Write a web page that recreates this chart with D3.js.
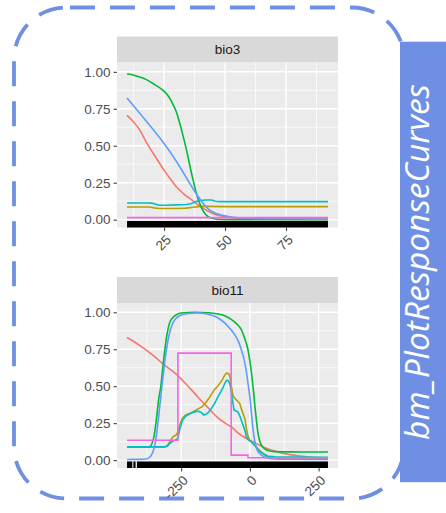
<!DOCTYPE html>
<html><head><meta charset="utf-8">
<script src="https://cdn.jsdelivr.net/npm/d3@7"></script>
<style>html,body{margin:0;padding:0;background:#fff;} svg{display:block}</style>
</head><body>
<svg id="chart" width="446" height="513"></svg>
<script>
// ---- response curve data: [predictor value, predicted probability] ----
const seriesColors = ["#F8766D", "#B79F00", "#00BA38", "#00BFC4", "#619CFF", "#F564E3"];
const seriesCurves = ["smooth", "linear", "smooth", "linear", "smooth", "step"];

// bio3
const bio3Red = [[9.8,0.705],[12.5,0.66],[15,0.607],[17.5,0.53],[20.5,0.449],[23,0.385],[25,0.335],[27.5,0.277],[30,0.222],[33,0.175],[36.9,0.127],[40,0.088],[43.7,0.052],[47,0.03],[50.6,0.018],[55,0.009],[60,0.005],[70,0.003],[92.2,0.002]];
const bio3Olive = [[9.8,0.086],[19,0.086],[21,0.08],[23,0.076],[30,0.076],[34,0.078],[37,0.084],[40,0.09],[43,0.09],[50,0.088],[92.2,0.088]];
const bio3Green = [[9.8,0.985],[12,0.98],[14,0.97],[17.8,0.947],[21,0.915],[25,0.868],[27,0.83],[28.7,0.778],[30,0.73],[31.4,0.653],[32.8,0.565],[34.2,0.47],[35.5,0.37],[36.9,0.267],[38.2,0.18],[39.6,0.109],[41,0.06],[42.4,0.029],[44,0.012],[46.5,0.003],[50,0],[92.2,0]];
const bio3Cyan = [[9.8,0.113],[18,0.113],[20,0.112],[21.5,0.104],[23,0.098],[26,0.097],[30,0.1],[34,0.103],[36,0.108],[38,0.122],[40,0.13],[42,0.133],[44.5,0.133],[46,0.125],[48,0.122],[92.2,0.122]];
const bio3Blue = [[9.8,0.823],[15,0.72],[20,0.62],[25,0.515],[30,0.395],[33,0.315],[35,0.26],[37,0.205],[39,0.155],[41,0.11],[43,0.075],[45,0.052],[48,0.033],[52,0.02],[57,0.011],[65,0.006],[80,0.004],[92.2,0.003]];
const bio3Pink = [[9.8,0.014],[92.2,0.014]];
const bio3Rug = [[9.8,92.2]];

// bio11
const bio11Red = [[-447,0.83],[-400,0.775],[-350,0.705],[-312,0.645],[-280,0.6],[-250,0.55],[-225,0.5],[-200,0.45],[-181,0.41],[-150,0.35],[-121,0.295],[-90,0.25],[-68,0.225],[-40,0.18],[-20,0.155],[0,0.135],[30,0.105],[60,0.08],[100,0.056],[157,0.034],[220,0.02],[284,0.012]];
const bio11Olive = [[-447,0.09],[-310,0.09],[-300,0.1],[-290,0.13],[-280,0.158],[-270,0.168],[-262,0.19],[-255,0.24],[-245,0.285],[-235,0.305],[-220,0.315],[-205,0.33],[-190,0.345],[-175,0.36],[-160,0.39],[-145,0.43],[-130,0.475],[-115,0.505],[-100,0.545],[-92,0.575],[-85,0.588],[-77,0.585],[-72,0.56],[-68,0.51],[-62,0.44],[-55,0.418],[-45,0.4],[-37,0.384],[-30,0.34],[-22,0.3],[-17,0.27],[-13,0.215],[-8,0.17],[-1,0.135],[8,0.12],[17,0.1],[28,0.078],[41,0.056],[55,0.035],[65,0.022],[85,0.015],[284,0.013]];
const bio11Green = [[-447,0.09],[-372,0.09],[-362,0.095],[-355,0.12],[-348,0.17],[-340,0.28],[-332,0.41],[-324,0.5],[-315,0.66],[-303,0.835],[-292,0.93],[-280,0.965],[-267,0.984],[-250,0.995],[-200,1.0],[-150,0.997],[-116,0.988],[-90,0.975],[-68,0.952],[-50,0.925],[-31,0.882],[-20,0.83],[-7,0.747],[0,0.67],[5,0.6],[10,0.52],[14,0.45],[18,0.37],[23,0.28],[29,0.19],[35,0.135],[41,0.105],[47,0.088],[56,0.074],[65,0.066],[90,0.058],[150,0.056],[284,0.055]];
const bio11Cyan = [[-447,0.09],[-310,0.09],[-300,0.095],[-290,0.115],[-280,0.13],[-270,0.137],[-262,0.15],[-255,0.21],[-245,0.27],[-235,0.295],[-222,0.31],[-210,0.32],[-195,0.33],[-185,0.33],[-175,0.32],[-168,0.305],[-160,0.31],[-150,0.325],[-140,0.35],[-128,0.385],[-116,0.43],[-105,0.465],[-98,0.49],[-90,0.525],[-85,0.54],[-78,0.538],[-72,0.51],[-68,0.465],[-62,0.39],[-58,0.34],[-50,0.332],[-43,0.325],[-35,0.29],[-25,0.237],[-18,0.2],[-13,0.16],[-5,0.135],[5,0.124],[15,0.105],[23,0.09],[35,0.06],[47,0.045],[65,0.028],[90,0.022],[284,0.02]];
const bio11Blue = [[-447,0.005],[-385,0.006],[-370,0.012],[-360,0.03],[-352,0.06],[-345,0.11],[-338,0.2],[-330,0.33],[-320,0.5],[-310,0.66],[-300,0.79],[-288,0.89],[-275,0.945],[-262,0.97],[-245,0.985],[-220,0.993],[-190,0.996],[-160,0.99],[-128,0.973],[-110,0.955],[-92,0.928],[-75,0.895],[-55,0.848],[-40,0.795],[-31,0.747],[-20,0.67],[-13,0.6],[-7,0.52],[-1,0.44],[5,0.33],[10,0.23],[17,0.135],[25,0.075],[35,0.045],[53,0.022],[80,0.01],[130,0.006],[284,0.005]];
const bio11Pink = [[-447,0.135],[-262,0.724],[-68,0.034],[-7,0.016],[284,0.016]];
const bio11Rug = [[-447,-428],[-424,-416],[-411,284]];

// axis ticks
const yTicks = [0, 0.25, 0.5, 0.75, 1];
const yMinor = [0.125, 0.375, 0.625, 0.875];
const bio3Ticks = [25, 50, 75];
const bio3Minor = [12.5, 37.5, 62.5, 87.5];
const bio11Ticks = [-250, 0, 250];
const bio11Minor = [-375, -125, 125];

const sideTitle = "bm_PlotResponseCurves";

// ---- layout ----
const svg = d3.select("#chart");
const accent = "#6e8fe3";
const panelLeft = 117, panelRight = 338, panelH = 165, stripH = 26;
const yDomain = [-0.053, 1.063];

const panels = [
  { title: "bio3", series: [bio3Red, bio3Olive, bio3Green, bio3Cyan, bio3Blue, bio3Pink],
    rug: bio3Rug, ticks: bio3Ticks, minor: bio3Minor, top: 62.5 },
  { title: "bio11", series: [bio11Red, bio11Olive, bio11Green, bio11Cyan, bio11Blue, bio11Pink],
    rug: bio11Rug, ticks: bio11Ticks, minor: bio11Minor, top: 303 }
];

// dashed frame around the facets
svg.append("rect")
  .attr("x", 14).attr("y", 7.5).attr("width", 390).attr("height", 491)
  .attr("rx", 52).attr("ry", 52)
  .attr("fill", "none").attr("stroke", accent).attr("stroke-width", 3.8)
  .attr("stroke-dasharray", "25 15").attr("stroke-dashoffset", 36);

const curveFor = { smooth: d3.curveMonotoneX, linear: d3.curveLinear, step: d3.curveStepAfter };

panels.forEach(p => {
  const allX = p.series.flat().map(d => d[0]);
  const [x0, x1] = d3.extent(allX);
  const pad = (x1 - x0) * 0.05;
  const x = d3.scaleLinear().domain([x0 - pad, x1 + pad]).range([panelLeft, panelRight]);
  const y = d3.scaleLinear().domain(yDomain).range([p.top + panelH, p.top]);
  const g = svg.append("g");

  // strip
  g.append("rect").attr("x", panelLeft).attr("y", p.top - stripH)
    .attr("width", panelRight - panelLeft).attr("height", stripH).attr("fill", "#d9d9d9");
  g.append("text").attr("x", (panelLeft + panelRight) / 2).attr("y", p.top - stripH / 2)
    .attr("text-anchor", "middle").attr("dominant-baseline", "central")
    .attr("font-family", "Liberation Sans, Arial, sans-serif").attr("font-size", 13.5)
    .attr("fill", "#1a1a1a").text(p.title);

  // panel background
  g.append("rect").attr("x", panelLeft).attr("y", p.top)
    .attr("width", panelRight - panelLeft).attr("height", panelH).attr("fill", "#ebebeb");

  // grid
  const grid = g.append("g").attr("stroke", "#fff");
  grid.selectAll(".ymin").data(yMinor).join("line")
    .attr("x1", panelLeft).attr("x2", panelRight).attr("y1", d => y(d)).attr("y2", d => y(d))
    .attr("stroke-width", 0.7);
  grid.selectAll(".xmin").data(p.minor.filter(v => v >= x.domain()[0] && v <= x.domain()[1])).join("line")
    .attr("y1", p.top).attr("y2", p.top + panelH).attr("x1", d => x(d)).attr("x2", d => x(d))
    .attr("stroke-width", 0.7);
  grid.selectAll(".ymaj").data(yTicks).join("line")
    .attr("x1", panelLeft).attr("x2", panelRight).attr("y1", d => y(d)).attr("y2", d => y(d))
    .attr("stroke-width", 1.4);
  grid.selectAll(".xmaj").data(p.ticks).join("line")
    .attr("y1", p.top).attr("y2", p.top + panelH).attr("x1", d => x(d)).attr("x2", d => x(d))
    .attr("stroke-width", 1.4);

  // curves
  p.series.forEach((s, i) => {
    const line = d3.line().x(d => x(d[0])).y(d => y(d[1])).curve(curveFor[seriesCurves[i]]);
    g.append("path").datum(s).attr("d", line)
      .attr("fill", "none").attr("stroke", seriesColors[i]).attr("stroke-width", 1.6);
  });

  // rug of observations along the bottom
  g.selectAll(".rug").data(p.rug).join("rect")
    .attr("x", d => x(d[0])).attr("width", d => x(d[1]) - x(d[0]))
    .attr("y", p.top + panelH - 6.5).attr("height", 6.5).attr("fill", "#000");

  // y axis
  const yAxis = g.append("g").attr("transform", `translate(${panelLeft},0)`)
    .call(d3.axisLeft(y).tickValues(yTicks).tickFormat(d3.format(".2f")).tickSize(3.5).tickPadding(3));
  yAxis.select(".domain").remove();
  yAxis.selectAll("line").attr("stroke", "#333");
  yAxis.selectAll("text").attr("font-family", "Liberation Sans, Arial, sans-serif")
    .attr("font-size", 13.5).attr("fill", "#4d4d4d");

  // x axis with rotated labels
  const xAxis = g.append("g").attr("transform", `translate(0,${p.top + panelH})`)
    .call(d3.axisBottom(x).tickValues(p.ticks).tickFormat(d => String(d)).tickSize(3.5));
  xAxis.select(".domain").remove();
  xAxis.selectAll("line").attr("stroke", "#333");
  xAxis.selectAll("text")
    .attr("font-family", "Liberation Sans, Arial, sans-serif").attr("font-size", 13.5).attr("fill", "#4d4d4d")
    .attr("text-anchor", "end").attr("dominant-baseline", "central")
    .attr("x", 0).attr("y", 0).attr("dy", null)
    .attr("transform", "translate(4,10) rotate(-45)");
});

// side title box
const boxX = 400, boxY = 41.7, boxW = 46, boxH = 440.5;
svg.append("rect").attr("x", boxX).attr("y", boxY).attr("width", boxW).attr("height", boxH).attr("fill", accent);
const title = svg.append("text")
  .attr("transform", `translate(428.5,${boxY + boxH / 2}) rotate(-90)`)
  .attr("text-anchor", "middle")
  .attr("font-family", "Open Sans, sans-serif").attr("font-style", "italic")
  .attr("font-size", 28).attr("fill", "#fff").text(sideTitle);
const len = title.node().getComputedTextLength();
title.attr("font-size", 28 * 356 / len);
</script></body></html>
